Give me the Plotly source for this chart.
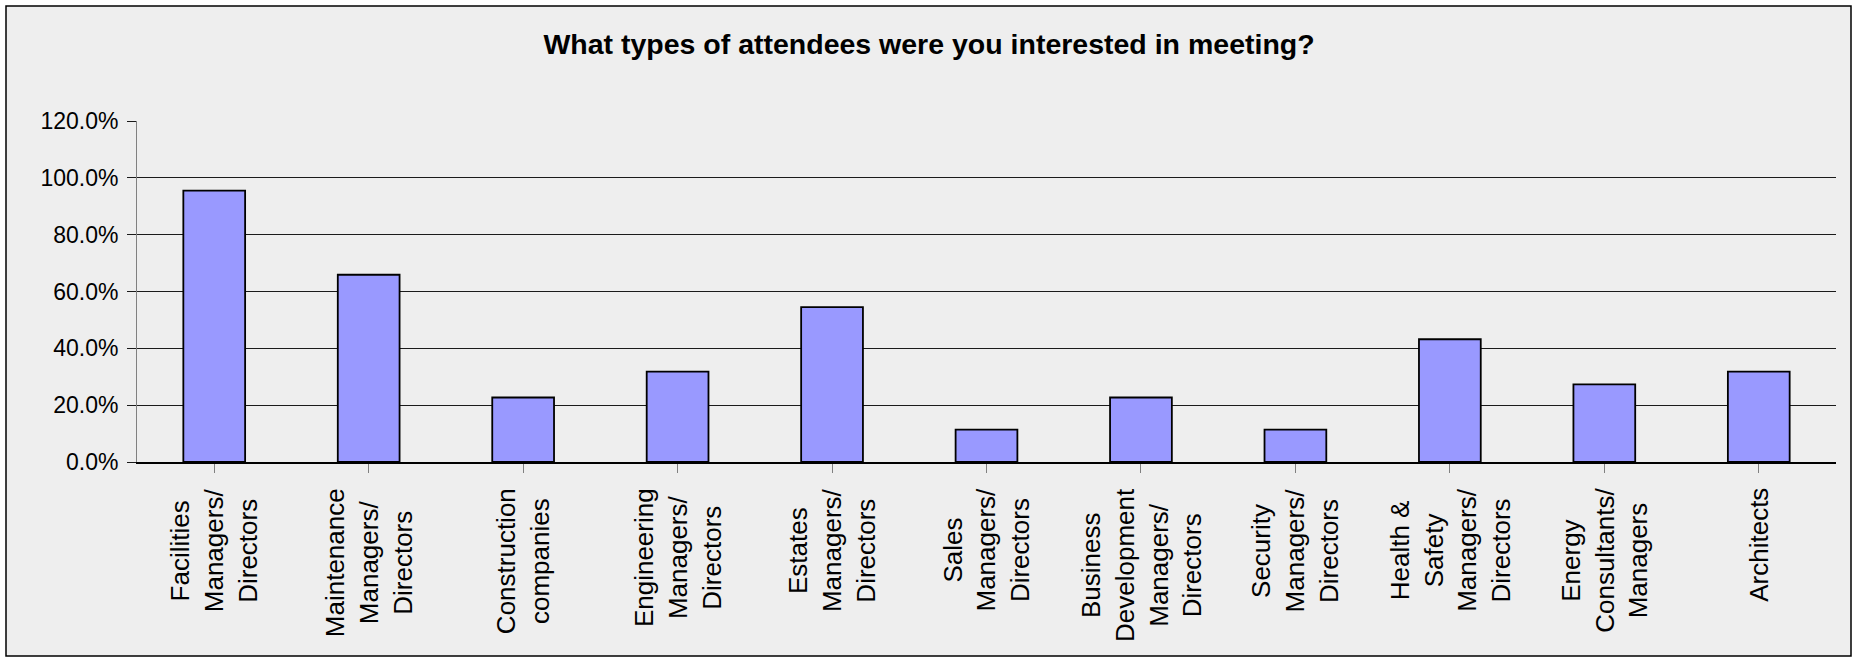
import plotly.graph_objects as go

categories = [
    "Facilities<br>Managers/<br>Directors",
    "Maintenance<br>Managers/<br>Directors",
    "Construction<br>companies",
    "Engineering<br>Managers/<br>Directors",
    "Estates<br>Managers/<br>Directors",
    "Sales<br>Managers/<br>Directors",
    "Business<br>Development<br>Managers/<br>Directors",
    "Security<br>Managers/<br>Directors",
    "Health &<br>Safety<br>Managers/<br>Directors",
    "Energy<br>Consultants/<br>Managers",
    "Architects",
]
values = [95.5, 65.9, 22.7, 31.8, 54.5, 11.4, 22.7, 11.4, 43.2, 27.3, 31.8]
y_ticks = [0, 20, 40, 60, 80, 100, 120]
y_tick_labels = ["%.1f%%" % v for v in y_ticks]
title_text = "What types of attendees were you interested in meeting?"

W, H = 1858, 663
L, R, T, B = 137, 22, 121, 201
pw, ph = W - L - R, H - T - B

def px_x(p):
    return (p - L) / pw

def px_y(p):
    return (H - B - p) / ph

fig = go.Figure()
fig.add_trace(go.Bar(
    x=list(range(len(categories))),
    y=values,
    marker=dict(color="#9999FF", line=dict(color="#000000", width=1.8)),
    hoverinfo="y",
))

annotations = []
for i, c in enumerate(categories):
    annotations.append(dict(
        x=i, y=0, xref="x", yref="paper", text=c, showarrow=False,
        textangle=-90, align="center", xanchor="center", yanchor="top",
        yshift=-24,
        font=dict(family="Liberation Sans, Arial", size=26, color="#000000"),
    ))

fig.update_layout(
    width=W, height=H,
    margin=dict(l=L, r=R, t=T, b=B, pad=0),
    paper_bgcolor="#FFFFFF",
    plot_bgcolor="#EEEEEE",
    showlegend=False,
    bargap=0.6,
    title=dict(
        text="<b>" + title_text + "</b>",
        x=0.5, xanchor="center", xref="container",
        y=1 - 44 / H, yanchor="middle", yref="container",
        font=dict(family="Liberation Sans, Arial", size=28.5, color="#000000"),
    ),
    xaxis=dict(
        range=[-0.5, len(categories) - 0.5],
        tickmode="array", tickvals=list(range(len(categories))),
        showticklabels=False,
        tickson="boundaries", ticks="outside", ticklen=9, tickcolor="#808080", tickwidth=1,
        showline=True, linecolor="#000000", linewidth=1.5,
        showgrid=False, zeroline=False,
    ),
    yaxis=dict(
        range=[0, 120], tickmode="array", tickvals=y_ticks, ticktext=y_tick_labels,
        ticks="outside", ticklen=9, tickcolor="#1a1a1a", tickwidth=1.2,
        ticklabelstandoff=4,
        showline=True, linecolor="#808080", linewidth=1,
        showgrid=True, gridcolor="#1a1a1a", gridwidth=1.2,
        zeroline=False,
        tickfont=dict(family="Liberation Sans, Arial", size=23, color="#000000"),
    ),
    annotations=annotations,
    shapes=[dict(
        type="rect", xref="paper", yref="paper", layer="below",
        x0=px_x(6), x1=px_x(1851), y0=px_y(656), y1=px_y(6),
        fillcolor="#EEEEEE", line=dict(color="#000000", width=1.5),
    )],
)

fig.write_html("out.html", config={"displayModeBar": False},
               post_script="document.body.style.margin='0px';")
